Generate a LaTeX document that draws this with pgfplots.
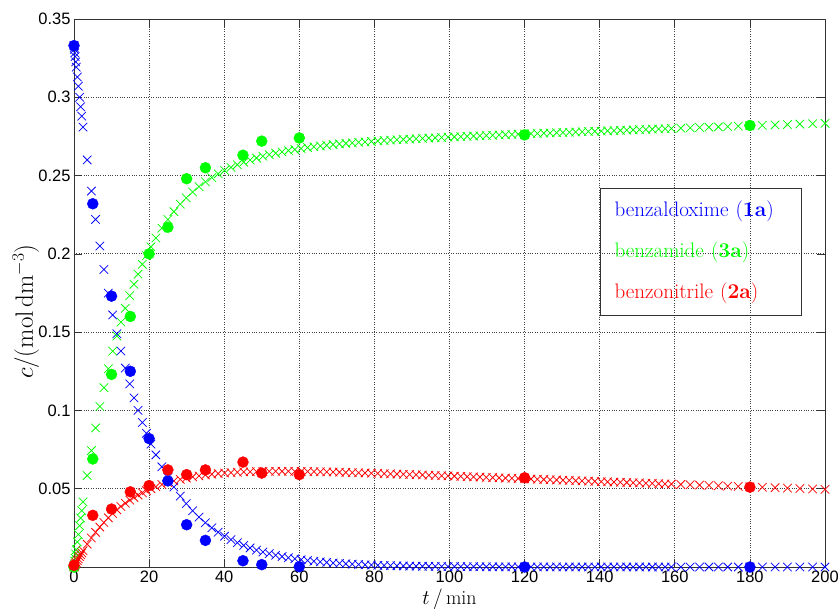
\documentclass[border=0pt]{standalone}
\usepackage{pgfplots}
\usepackage{pgfplotstable}
\usepackage{fontspec}
\pgfplotsset{compat=1.18}
\newfontfamily\ticksfont{Liberation Sans}
\definecolor{mblue}{RGB}{0,0,255}
\definecolor{mgreen}{RGB}{0,255,0}
\definecolor{mred}{RGB}{255,0,0}

% fitted model (x markers): t, 1a, 2a, 3a
\pgfplotstableread{
t A B C
0 0.33300 0.00000 0.00000
0.05 0.33183 0.00024 0.00093
0.1 0.33066 0.00047 0.00187
0.2 0.32834 0.00093 0.00373
0.3 0.32603 0.00140 0.00557
0.45 0.32260 0.00208 0.00832
0.6 0.31921 0.00276 0.01103
0.88 0.31297 0.00401 0.01602
1.15 0.30707 0.00519 0.02074
1.48 0.30001 0.00661 0.02638
1.77 0.29393 0.00782 0.03125
2.06 0.28799 0.00901 0.03600
2.41 0.28097 0.01041 0.04162
3.51 0.26000 0.01459 0.05841
4.64 0.24010 0.01855 0.07435
5.75 0.22202 0.02214 0.08884
6.88 0.20502 0.02550 0.10248
7.96 0.18999 0.02847 0.11454
9.13 0.17495 0.03143 0.12662
10.31 0.16098 0.03417 0.13785
11.41 0.14897 0.03651 0.14752
12.5 0.13795 0.03865 0.15640
13.67 0.12703 0.04077 0.16520
14.84 0.11697 0.04271 0.17332
15.97 0.10801 0.04442 0.18057
17.06 0.10002 0.04595 0.18703
18.2 0.09230 0.04741 0.19329
19.3 0.08541 0.04871 0.19888
20.5 0.07848 0.05000 0.20452
21.8 0.07161 0.05127 0.21012
23.4 0.06397 0.05267 0.21636
25.0 0.05715 0.05390 0.22195
26.6 0.05105 0.05498 0.22697
28.3 0.04529 0.05599 0.23172
29.9 0.04046 0.05681 0.23573
31.6 0.03589 0.05757 0.23954
33.3 0.03183 0.05823 0.24294
35.0 0.02824 0.05879 0.24597
36.7 0.02505 0.05927 0.24868
38.4 0.02222 0.05967 0.25111
40.1 0.01971 0.06002 0.25327
41.8 0.01748 0.06030 0.25522
43.5 0.01551 0.06053 0.25696
45.2 0.01376 0.06072 0.25852
46.9 0.01220 0.06086 0.25994
48.6 0.01082 0.06097 0.26121
50.3 0.00960 0.06105 0.26235
52.0 0.00852 0.06110 0.26338
53.7 0.00755 0.06113 0.26432
55.4 0.00670 0.06113 0.26517
57.1 0.00594 0.06112 0.26594
58.8 0.00527 0.06109 0.26664
60.5 0.00468 0.06104 0.26728
62.2 0.00415 0.06098 0.26787
63.9 0.00368 0.06091 0.26841
65.6 0.00327 0.06083 0.26890
67.3 0.00290 0.06074 0.26936
69.0 0.00257 0.06064 0.26979
70.7 0.00228 0.06053 0.27019
72.4 0.00202 0.06042 0.27056
74.1 0.00179 0.06030 0.27091
75.8 0.00159 0.06017 0.27124
77.5 0.00141 0.06005 0.27154
79.2 0.00125 0.05992 0.27183
80.9 0.00111 0.05978 0.27211
82.6 0.00099 0.05964 0.27237
84.3 0.00087 0.05950 0.27263
86.0 0.00077 0.05936 0.27287
87.7 0.00069 0.05922 0.27309
89.4 0.00061 0.05907 0.27332
91.1 0.00054 0.05893 0.27353
92.8 0.00048 0.05878 0.27374
94.5 0.00043 0.05863 0.27394
96.2 0.00038 0.05848 0.27414
97.9 0.00033 0.05833 0.27434
99.6 0.00030 0.05818 0.27452
101.3 0.00026 0.05803 0.27471
103.0 0.00023 0.05788 0.27489
104.7 0.00021 0.05772 0.27507
106.4 0.00018 0.05757 0.27525
108.1 0.00016 0.05742 0.27542
109.8 0.00014 0.05727 0.27559
111.5 0.00013 0.05712 0.27575
113.2 0.00011 0.05696 0.27593
114.9 0.00010 0.05681 0.27609
116.6 0.00009 0.05666 0.27625
118.3 0.00008 0.05651 0.27641
120.0 0.00007 0.05636 0.27657
121.7 0.00006 0.05620 0.27674
123.4 0.00006 0.05605 0.27689
125.1 0.00005 0.05590 0.27705
126.8 0.00004 0.05575 0.27721
128.5 0.00004 0.05560 0.27736
130.2 0.00003 0.05545 0.27752
131.9 0.00003 0.05530 0.27767
133.6 0.00003 0.05515 0.27782
135.3 0.00002 0.05500 0.27798
137.0 0.00002 0.05485 0.27813
138.7 0.00002 0.05471 0.27827
140.4 0.00002 0.05456 0.27842
142.1 0.00001 0.05441 0.27858
143.8 0.00001 0.05426 0.27873
145.5 0.00001 0.05412 0.27887
147.2 0.00001 0.05397 0.27902
148.9 0.00001 0.05382 0.27917
150.6 0.00001 0.05368 0.27931
152.3 0.00001 0.05353 0.27946
154.0 0.00000 0.05339 0.27961
155.7 0.00000 0.05324 0.27976
157.4 0.00000 0.05310 0.27990
159.1 0.00000 0.05295 0.28005
161.6 0.00000 0.05274 0.28026
164.1 0.00000 0.05253 0.28047
166.6 0.00000 0.05232 0.28068
169.1 0.00000 0.05211 0.28089
171.6 0.00000 0.05190 0.28110
174.1 0.00000 0.05170 0.28130
176.9 0.00000 0.05146 0.28154
180.0 0.00000 0.05121 0.28179
183.3 0.00000 0.05094 0.28206
186.7 0.00000 0.05066 0.28234
190.0 0.00000 0.05040 0.28260
193.3 0.00000 0.05013 0.28287
196.7 0.00000 0.04986 0.28314
200.0 0.00000 0.04960 0.28340
}\model

% measured concentrations (filled circles)
\pgfplotstableread{
t A B C
0 0.333 0.001 0.000
5 0.232 0.033 0.069
10 0.173 0.037 0.123
15 0.125 0.048 0.160
20 0.082 0.052 0.200
25 0.055 0.062 0.217
30 0.027 0.059 0.248
35 0.017 0.062 0.255
45 0.004 0.067 0.263
50 0.0015 0.060 0.272
60 0.0002 0.059 0.274
120 0.000 0.057 0.276
180 0.000 0.051 0.282
}\measured

\begin{document}
\begin{tikzpicture}
\begin{axis}[
  scale only axis,
  width=751pt, height=548pt,
  xmin=0, xmax=200, ymin=0, ymax=0.35,
  xtick={0,20,40,60,80,100,120,140,160,180,200},
  xticklabels={0,20,40,60,80,100,120,140,160,180,200},
  ytick={0.05,0.1,0.15,0.2,0.25,0.3,0.35},
  yticklabels={0.05,0.1,0.15,0.2,0.25,0.3,0.35},
  tick label style={font=\ticksfont\fontsize{16.5}{18}\selectfont},
  /pgf/number format/assume math mode=true,
  tick align=inside, tick pos=both,
  major tick length=8pt,
  tick style={black!80, line width=0.7pt},
  axis line style={black!80, line width=0.8pt},
  grid=major,
  grid style={dotted, line width=0.8pt, black!75},
  xlabel={$t\,/\,\mathrm{min}$},
  ylabel={$c/(\mathrm{mol\,dm^{-3}})$},
  xlabel style={font=\fontsize{20}{24}\selectfont, at={(axis description cs:0.5,-0.0693)}, anchor=base},
  ylabel style={font=\fontsize{25}{30}\selectfont, at={(axis description cs:-0.0546,0.466)}, anchor=base},
  clip=false,
]
\addplot[only marks, mark=x, mark size=6pt, mblue, line width=0.75pt] table[x=t, y=A] {\model};
\addplot[only marks, mark=x, mark size=6pt, mgreen, line width=0.75pt] table[x=t, y=C] {\model};
\addplot[only marks, mark=x, mark size=6pt, mred, line width=0.75pt] table[x=t, y=B] {\model};
\addplot[only marks, mark=*, mark size=5.5pt, mblue, mark options={fill=mblue, draw=mblue}] table[x=t, y=A] {\measured};
\addplot[only marks, mark=*, mark size=5.5pt, mgreen, mark options={fill=mgreen, draw=mgreen}] table[x=t, y=C] {\measured};
\addplot[only marks, mark=*, mark size=5.5pt, mred, mark options={fill=mred, draw=mred}] table[x=t, y=B] {\measured};
\node[draw=black!80, line width=0.8pt, anchor=north west, align=left,
  text width=172pt, inner xsep=14.5pt, inner ysep=0pt, minimum height=127pt,
  font=\fontsize{21}{41}\selectfont]
  at (rel axis cs:0.700,0.6916)
  {\textcolor{mblue}{benzaldoxime (\textbf{1a})}\\
   \textcolor{mgreen}{benzamide (\textbf{3a})}\\
   \textcolor{mred}{benzonitrile (\textbf{2a})}};
\end{axis}
\pgfresetboundingbox
\path ([xshift=-74pt,yshift=-41pt]current axis.south west) rectangle ([xshift=15pt,yshift=19pt]current axis.north east);
\end{tikzpicture}
\end{document}
